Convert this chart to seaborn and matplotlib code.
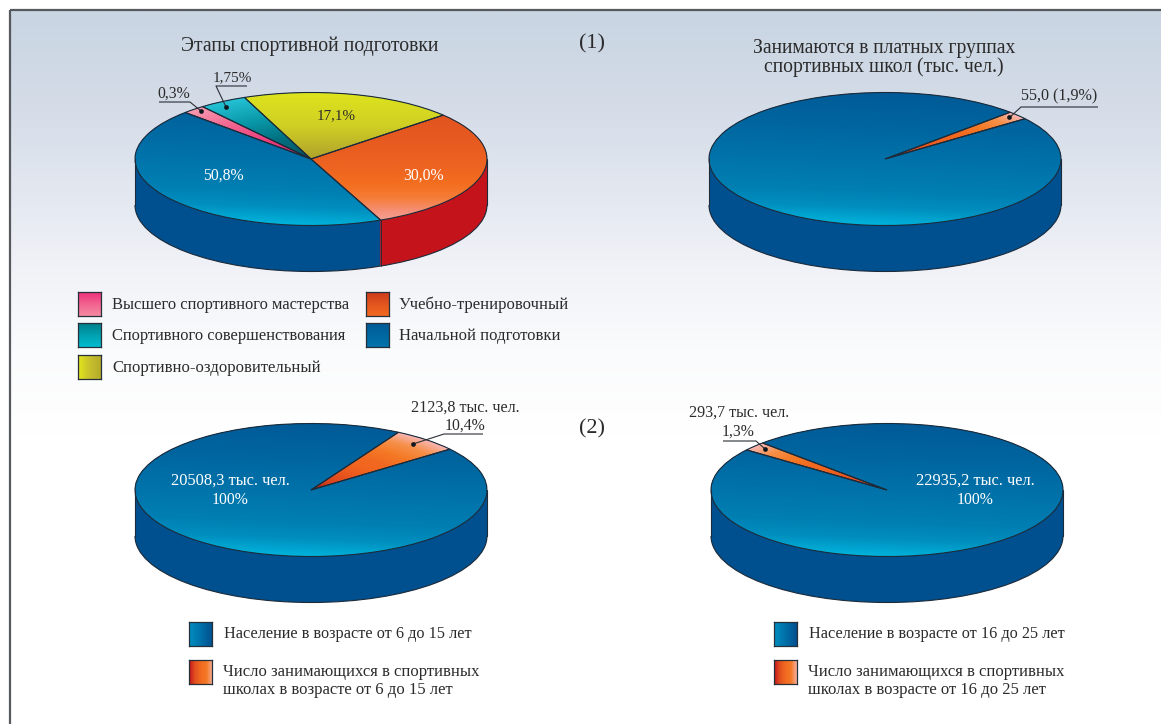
import numpy as np
import seaborn as sns
import matplotlib.pyplot as plt
from matplotlib.patches import Arc

# Доли секторов так, как они нарисованы (подписи на картинке им не равны)
stage_shares = [30.0, 19.7, 4.4, 2.1, 43.8]
stage_start = -66.7
paid_shares = [2.05, 97.95]
paid_start = 37.3
young_shares = [6.2, 93.8]
young_start = 37.9
older_shares = [2.2, 97.8]
older_start = 135.0

stage_labels = ['30,0%', '17,1%', '1,75%', '0,3%', '50,8%']
paid_label = '55,0 (1,9%)'
young_label = ['2123,8 тыс. чел.', '10,4%']
young_total = ['20508,3 тыс. чел.', '100%']
older_label = ['293,7 тыс. чел.', '1,3%']
older_total = ['22935,2 тыс. чел.', '100%']

stage_legend = ['Высшего спортивного мастерства', 'Спортивного совершенствования',
                'Спортивно-оздоровительный', 'Учебно-тренировочный', 'Начальной подготовки']
young_legend = ['Население в возрасте от 6 до 15 лет',
                'Число занимающихся в спортивных\nшколах в возрасте от 6 до 15 лет']
older_legend = ['Население в возрасте от 16 до 25 лет',
                'Число занимающихся в спортивных\nшколах в возрасте от 16 до 25 лет']

W, H = 1161, 724
RX, RY, DEPTH = 176, 66.5, 46
EDGE = '#1c2b3a'
TEXT = '#2b2b2b'
BLUE_SIDE = '#004f8e'
RED_SIDE = '#c4131b'

sns.set_theme(style='white')
plt.rcParams['font.family'] = ['Liberation Serif', 'DejaVu Serif']

# Градиенты заливки
blue_cm = sns.blend_palette(['#005a97', '#00609b', '#00659f', '#006ba4', '#0072a9', '#0078ae',
                             '#007fb3', '#008fbf', '#00b2da'], as_cmap=True)
orange_cm = sns.blend_palette(['#dc4f1f', '#e0531f', '#e2551f', '#e55820', '#e85c20', '#ec6120',
                               '#ef6620', '#f46f20', '#f57d38', '#f6907a', '#f4aaa0'], as_cmap=True)
yellow_cm = sns.blend_palette(['#dde41c', '#d0cf24', '#b0a22c', '#a89a2c', '#a89a2c'], as_cmap=True)
teal_cm = sns.blend_palette(['#00505f', '#006f80', '#0a9aaa', '#25c2d6'], as_cmap=True)
pink_cm = sns.blend_palette(['#d81f66', '#ee3a7c', '#f2638f', '#f79ab0'], as_cmap=True)
spike_cm = sns.blend_palette(['#a81a12', '#d8431c', '#e8551e', '#f0641f', '#f26a21', '#f47a26',
                              '#f6904a', '#f8b8b8'], as_cmap=True)
bg_cm = sns.blend_palette(['#c9d5e3', '#d3dbe7', '#e1e6ef', '#f0f2f7', '#fafbfc', '#ffffff'], as_cmap=True)


def px_axes(left, top, width, height, zorder=1):
    return fig.add_axes([left / W, 1 - (top + height) / H, width / W, height / H], zorder=zorder)


def paint(ax, wedge, cmap, mode):
    yy, xx = np.mgrid[1:-1:300j, -1:1:300j]
    if mode == 'radial':
        val = np.clip(np.hypot(xx, yy), 0, 1)
    elif mode == 'tilt':
        val = np.clip((1 - yy - 0.1 * xx) / 2, 0, 1)
    else:
        val = (1 - yy) / 2
    im = ax.imshow(val, cmap=cmap, vmin=0, vmax=1, extent=(-1, 1, -1, 1), aspect='auto', zorder=2)
    im.set_clip_path(wedge)


def draw_pie(cx, cy, shares, start, side_colors, fills):
    ax = px_axes(cx - RX, cy - RY, 2 * RX, 2 * RY + DEPTH)
    d = DEPTH / RY
    # боковая стенка - стопка одинаковых кругов
    for off in np.linspace(-d, 0, 60):
        ax.pie(shares, startangle=start, colors=side_colors, center=(0, off),
               wedgeprops={'linewidth': 0, 'clip_on': False})
    top, _ = ax.pie(shares, startangle=start, colors=side_colors, wedgeprops={'linewidth': 0, 'clip_on': False})
    for wedge, (cmap, mode) in zip(top, fills):
        paint(ax, wedge, cmap, mode)
    ax.pie(shares, startangle=start, wedgeprops={'fill': False, 'edgecolor': EDGE, 'linewidth': 0.8,
                                                 'zorder': 3, 'clip_on': False})
    ax.add_patch(Arc((0, -d), 2, 2, theta1=180, theta2=360, color=EDGE, lw=0.8, zorder=3, clip_on=False))
    ax.plot([-1, -1], [0, -d], color=EDGE, lw=0.8, zorder=3, clip_on=False)
    ax.plot([1, 1], [0, -d], color=EDGE, lw=0.8, zorder=3, clip_on=False)
    # граница цветов на стенке
    ang = start
    for s, c0, c1 in zip(shares, side_colors, side_colors[1:] + side_colors[:1]):
        ang += s * 3.6
        x, y = np.cos(np.radians(ang)), np.sin(np.radians(ang))
        if y < 0 and c0 != c1:
            ax.plot([x, x], [y, y - d], color=EDGE, lw=0.6, zorder=3, clip_on=False)
    ax.set_aspect('auto')
    ax.set_xlim(-1, 1)
    ax.set_ylim(-1 - d, 1)
    ax.axis('off')


def swatch(left, top, cmap, horizontal=False, size=(23, 24)):
    ax = px_axes(left, top, size[0], size[1], zorder=3)
    g = np.linspace(0, 1, 64)
    g = g.reshape(1, -1) if horizontal else g.reshape(-1, 1)
    ax.imshow(g, cmap=cmap, vmin=0, vmax=1, aspect='auto')
    ax.set_xticks([])
    ax.set_yticks([])
    for sp in ax.spines.values():
        sp.set_color('#26303a')
        sp.set_linewidth(0.9)


fig = plt.figure(figsize=(W / 100, H / 100), dpi=100, facecolor='white')

# Фон
bg = px_axes(0, 0, W, H, zorder=0)
bg.imshow(np.linspace(0, 1, 256).reshape(-1, 1), cmap=bg_cm, vmin=0, vmax=1, aspect='auto',
          extent=(11, W, 436, 11))
bg.set_xlim(0, W)
bg.set_ylim(H, 0)
bg.plot([10, 10], [10, H], color='#565a5f', lw=1.6, solid_capstyle='butt')
bg.plot([10, W], [10, 10], color='#565a5f', lw=1.6, solid_capstyle='butt')
bg.axis('off')

draw_pie(311, 159, stage_shares, stage_start,
         [RED_SIDE, BLUE_SIDE, BLUE_SIDE, BLUE_SIDE, BLUE_SIDE],
         [(orange_cm, 'v'), (yellow_cm, 'v'), (teal_cm, 'radial'), (pink_cm, 'radial'), (blue_cm, 'tilt')])
draw_pie(885, 159, paid_shares, paid_start, [BLUE_SIDE, BLUE_SIDE],
         [(spike_cm, 'radial'), (blue_cm, 'tilt')])
draw_pie(311, 490, young_shares, young_start, [BLUE_SIDE, BLUE_SIDE],
         [(spike_cm, 'radial'), (blue_cm, 'tilt')])
draw_pie(887, 490, older_shares, older_start, [BLUE_SIDE, BLUE_SIDE],
         [(spike_cm, 'radial'), (blue_cm, 'tilt')])

# Подписи поверх всего
ov = px_axes(0, 0, W, H, zorder=5)
ov.set_xlim(0, W)
ov.set_ylim(H, 0)
ov.axis('off')
ov.patch.set_alpha(0)


def txt(x, y, s, size=11.3, color=TEXT, ha='left', spacing=1.2):
    ov.text(x, y + 1, s, fontsize=size, color=color, ha=ha, va='center', linespacing=spacing)


def leader(xs, ys, dot):
    ov.plot(xs, ys, color='#2a2f35', lw=0.8, solid_capstyle='butt')
    ov.plot(*dot, 'o', color='#10181f', ms=3.4, mew=0)


txt(310, 45, 'Этапы спортивной подготовки', 14.2, ha='center')
txt(592, 43, '(1)', 16, ha='center')
txt(884, 47, 'Занимаются в платных группах', 14.1, ha='center')
txt(884, 66, 'спортивных школ (тыс. чел.)', 14.1, ha='center')
txt(592, 428, '(2)', 16, ha='center')

txt(336, 115, stage_labels[1], 10.8, ha='center')
txt(424, 175, stage_labels[0], color='white', ha='center')
txt(223, 175, stage_labels[4], color='white', ha='center')
txt(232, 77, stage_labels[2], 11, ha='center')
txt(174, 93, stage_labels[3], ha='center')
leader([247, 216, 226], [86, 86, 107], (226, 107))
leader([159, 190, 201], [102, 102, 111], (201, 111))

txt(1059, 95, paid_label, 11.6, ha='center')
leader([1098, 1021, 1009], [107, 107, 118], (1009, 117))

txt(465, 407, young_label[0], 11.6, ha='center')
txt(465, 425, young_label[1], ha='center')
leader([483, 444, 413], [434, 434, 444], (413, 444))
txt(230, 480, young_total[0], 11.8, color='white', ha='center')
txt(230, 499, young_total[1], color='white', ha='center')

txt(739, 412, older_label[0], 11.6, ha='center')
txt(738, 431, older_label[1], ha='center')
leader([723, 756, 765], [441, 441, 449], (765, 449))
txt(975, 480, older_total[0], 11.8, color='white', ha='center')
txt(975, 499, older_total[1], color='white', ha='center')

# Легенды
legend_cm = [sns.blend_palette(['#ee2f7c', '#f2638f', '#f58aa3'], as_cmap=True),
             sns.blend_palette(['#007f8a', '#00a0b0', '#00bdd0'], as_cmap=True),
             sns.blend_palette(['#e2e61c', '#c8c02c', '#b5ac2a'], as_cmap=True)]
for i, (name, cm, tp) in enumerate(zip(stage_legend[:3], legend_cm, [292, 323, 355])):
    swatch(78, tp, cm, horizontal=(i == 2))
    txt(112, tp + 12, name, 11.9 if i < 2 else 12)
swatch(366, 292, sns.blend_palette(['#cc3a1c', '#e2551f', '#f26a21'], as_cmap=True))
txt(399, 304, stage_legend[3], 12)
swatch(366, 323, sns.blend_palette(['#005a97', '#0074aa'], as_cmap=True))
txt(399, 335, stage_legend[4], 12)

pop_cm = sns.blend_palette(['#008fc0', '#0070a8', '#004f8e'], as_cmap=True)
side_cm = sns.blend_palette(['#c4131b', '#e2501f', '#f26a21', '#f47a26', '#f7b0a0'], as_cmap=True)
for left, names in zip([189, 774], [young_legend, older_legend]):
    swatch(left, 622, pop_cm, horizontal=True)
    txt(left + 35, 633, names[0], 11.7)
    swatch(left, 660, side_cm, horizontal=True)
    txt(left + 34, 680, names[1], 12)

fig.savefig('out.png', dpi=100)
